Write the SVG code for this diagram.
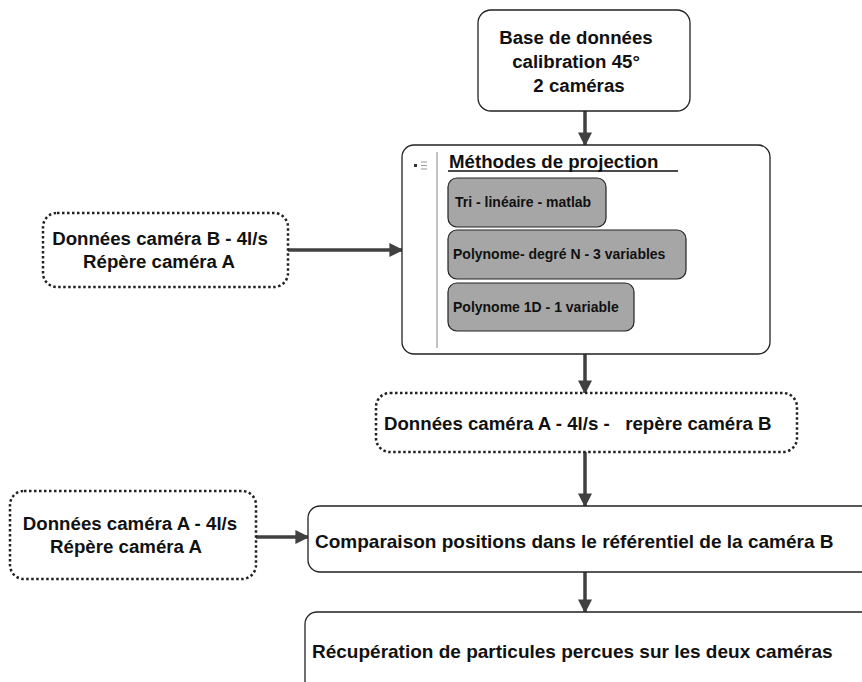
<svg xmlns="http://www.w3.org/2000/svg" width="862" height="682" viewBox="0 0 862 682">
<defs>
<marker id="ah" viewBox="0 0 10 10" refX="9" refY="5" markerWidth="4" markerHeight="4" orient="auto" markerUnits="strokeWidth"><path d="M0,0 L10,5 L0,10 z" fill="#404040"/></marker>
<style>
text{font-family:"Liberation Sans",Arial,sans-serif;font-weight:bold;fill:#111;}
.t{font-size:18.67px;}
.b{font-size:19px;}
.s{font-size:14px;}
.box{fill:#fff;stroke:#222;stroke-width:1.3;}
.dot{fill:#fff;stroke:#222;stroke-width:2.5;stroke-dasharray:2.5 2.5;}
.sub{fill:#a6a6a6;stroke:#222;stroke-width:1.2;}
.c{fill:none;stroke:#404040;stroke-width:3.5;marker-end:url(#ah);}
</style>
</defs>
<rect width="862" height="682" fill="#fff"/>
<g id="connectors">
<line class="c" x1="585" y1="111" x2="585" y2="145"/>
<line class="c" x1="288" y1="250" x2="402" y2="250"/>
<line class="c" x1="585" y1="354" x2="585" y2="393"/>
<line class="c" x1="585" y1="452" x2="585" y2="506"/>
<line class="c" x1="256" y1="537" x2="308" y2="537"/>
<line class="c" x1="585" y1="572" x2="585" y2="612"/>
</g>
<g id="base">
<rect class="box" x="478" y="10" width="212" height="101" rx="13"/>
<text class="t" x="576" y="44" text-anchor="middle">Base de données</text>
<text class="t" x="576" y="68" text-anchor="middle">calibration 45°</text>
<text class="t" x="579" y="92" text-anchor="middle">2 caméras</text>
</g>
<g id="methodes">
<rect class="box" x="402" y="145" width="368" height="209" rx="12"/>
<line x1="437" y1="152" x2="437" y2="348" stroke="#999" stroke-width="1.2"/>
<rect x="414" y="164" width="3" height="3" fill="#333"/>
<line x1="421" y1="162" x2="427" y2="162" stroke="#999" stroke-width="1"/>
<line x1="421" y1="165.5" x2="427" y2="165.5" stroke="#999" stroke-width="1"/>
<line x1="421" y1="169" x2="427" y2="169" stroke="#999" stroke-width="1"/>
<text class="t" x="449" y="168">Méthodes de projection</text>
<line x1="448" y1="171" x2="678" y2="171" stroke="#111" stroke-width="1.5"/>
<g id="tri">
<rect class="sub" x="448" y="178" width="158" height="49" rx="9"/>
<text class="s" x="455" y="207">Tri - linéaire - matlab</text>
</g>
<g id="poly3">
<rect class="sub" x="448" y="230" width="238" height="49" rx="9"/>
<text class="s" x="453" y="259">Polynome- degré N - 3 variables</text>
</g>
<g id="poly1">
<rect class="sub" x="448" y="283" width="186" height="48" rx="9"/>
<text class="s" x="453" y="312">Polynome 1D - 1 variable</text>
</g>
</g>
<g id="donneesB">
<rect class="dot" x="43" y="213" width="245" height="74" rx="14"/>
<text class="t" x="160" y="245" text-anchor="middle">Données caméra B - 4l/s</text>
<text class="t" x="159" y="268" text-anchor="middle">Répère caméra A</text>
</g>
<g id="donneesAB">
<rect class="dot" x="376" y="393" width="421" height="59" rx="14"/>
<text class="t" x="384" y="430" xml:space="preserve">Données caméra A - 4l/s -   repère caméra B</text>
</g>
<g id="donneesA">
<rect class="dot" x="10" y="491" width="246" height="88" rx="14"/>
<text class="t" x="130" y="530" text-anchor="middle">Données caméra A - 4l/s</text>
<text class="t" x="126" y="553" text-anchor="middle">Répère caméra A</text>
</g>
<g id="comparaison">
<rect class="box" x="308" y="506" width="570" height="66" rx="12"/>
<text class="b" x="315" y="548">Comparaison positions dans le référentiel de la caméra B</text>
</g>
<g id="recuperation">
<rect class="box" x="305" y="612" width="573" height="90" rx="12"/>
<text class="b" x="312" y="658">Récupération de particules percues sur les deux caméras</text>
</g>
</svg>
